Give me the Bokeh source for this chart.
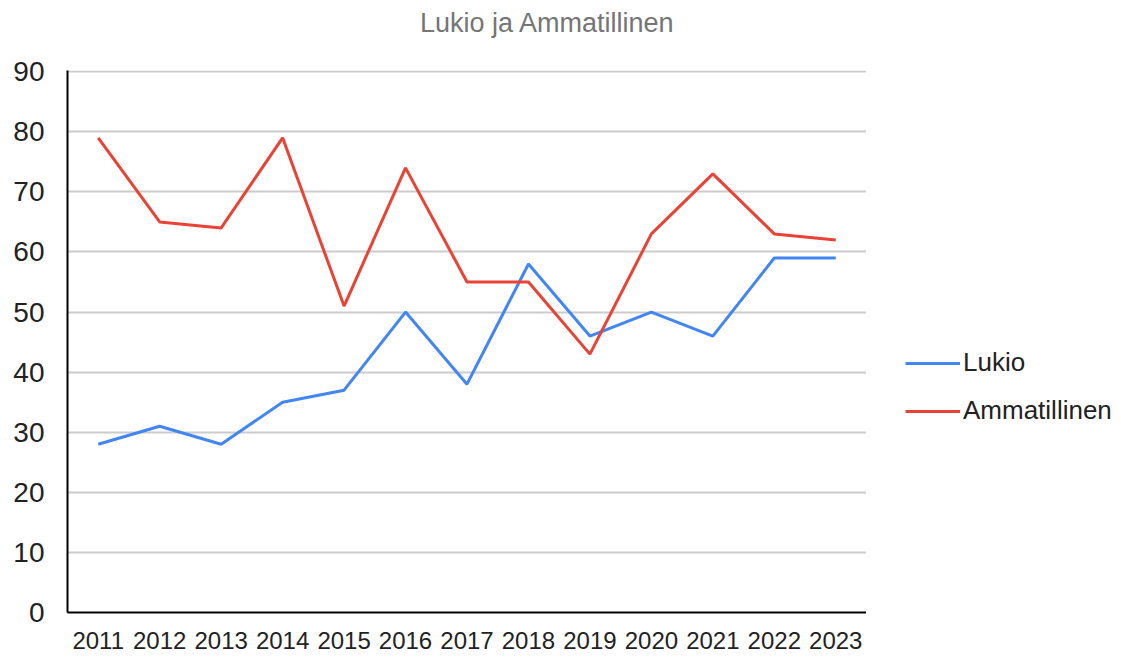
from bokeh.plotting import figure
from bokeh.models import Range1d, Legend, LegendItem, Label
from bokeh.layouts import column, row
from bokeh.embed import file_html
from bokeh.resources import INLINE

years = ["2011", "2012", "2013", "2014", "2015", "2016", "2017", "2018", "2019", "2020", "2021", "2022", "2023"]
lukio = [28, 31, 28, 35, 37, 50, 38, 58, 46, 50, 46, 59, 59]
ammatillinen = [79, 65, 64, 79, 51, 74, 55, 55, 43, 63, 73, 63, 62]
y_ticks = [0, 10, 20, 30, 40, 50, 60, 70, 80, 90]
title_text = "Lukio ja Ammatillinen"
BLUE, RED = "#4285F4", "#EA4335"

FONT = "Liberation Sans"
TITLE_H = 44
MAIN_W, MAIN_H = 866, 611
LEG_W = 249
NAN = float("nan")


def bare(fig):
    fig.outline_line_color = None
    fig.background_fill_color = "white"
    fig.border_fill_color = "white"
    fig.xgrid.grid_line_color = None
    fig.ygrid.grid_line_color = None
    return fig


# title strip
tf = bare(figure(width=MAIN_W, height=TITLE_H, output_backend="svg", toolbar_location=None,
                 x_range=Range1d(0, 1), y_range=Range1d(0, 1),
                 x_axis_location=None, y_axis_location=None,
                 min_border_left=0, min_border_right=0, min_border_top=0, min_border_bottom=0))
tf.add_layout(Label(x=547, y=TITLE_H - 22, x_units="screen", y_units="screen", text=title_text,
                    text_align="center", text_baseline="middle", text_font=FONT,
                    text_font_size="27px", text_color="#757575"))

# main chart
p = bare(figure(x_range=years, y_range=Range1d(0, 90.2), width=MAIN_W, height=MAIN_H,
                output_backend="svg", toolbar_location=None,
                min_border_left=67, min_border_right=0, min_border_top=70 - TITLE_H,
                min_border_bottom=MAIN_H - (612 - TITLE_H)))

p.line(years, lukio, line_color=BLUE, line_width=3)
p.line(years, ammatillinen, line_color=RED, line_width=3)

p.yaxis.ticker = y_ticks
p.ygrid.grid_line_color = "#cccccc"
p.ygrid.grid_line_width = 2

for ax in (p.xaxis[0], p.yaxis[0]):
    ax.axis_line_color = "#000000"
    ax.axis_line_width = 2
    ax.major_tick_line_color = None
    ax.minor_tick_line_color = None
    ax.major_label_text_font = FONT
    ax.major_label_text_color = "#222222"

p.xaxis.major_label_text_font_size = "24px"
p.xaxis.major_label_standoff = 13
p.yaxis.major_label_text_font_size = "28px"
p.yaxis.major_label_standoff = 17

# legend strip
lf = bare(figure(width=LEG_W, height=MAIN_H, output_backend="svg", toolbar_location=None,
                 x_range=Range1d(0, 1), y_range=Range1d(0, 1),
                 x_axis_location=None, y_axis_location=None,
                 min_border_left=0, min_border_right=0, min_border_top=0, min_border_bottom=0))
l1 = lf.line(x=[NAN], y=[NAN], line_color=BLUE, line_width=3)
l2 = lf.line(x=[NAN], y=[NAN], line_color=RED, line_width=3)
legend = Legend(items=[LegendItem(label="Lukio", renderers=[l1]),
                       LegendItem(label="Ammatillinen", renderers=[l2])],
                location=(39, 186))
legend.padding = 0
legend.margin = 0
legend.border_line_alpha = 0
legend.background_fill_alpha = 0
legend.glyph_width = 55
legend.glyph_height = 30
legend.label_height = 30
legend.spacing = 17
legend.label_standoff = 3
legend.label_text_font = FONT
legend.label_text_font_size = "26px"
legend.label_text_color = "#222222"
legend.label_text_baseline = "middle"
lf.add_layout(legend)

layout = column(tf, row(p, lf, spacing=0), spacing=0)
open("out.html", "w").write(file_html(layout, INLINE))
